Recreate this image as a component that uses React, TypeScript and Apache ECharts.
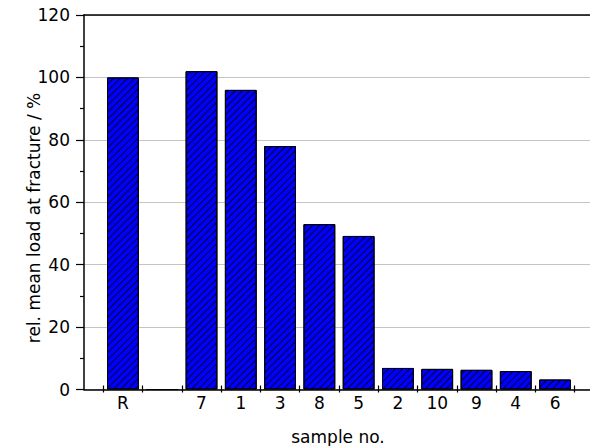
import React, { useEffect, useRef } from "react";
import * as echarts from "echarts";

const categories = ["R", "", "7", "1", "3", "8", "5", "2", "10", "9", "4", "6"];
const loadValues = [100, 0, 102, 96, 78, 53, 49.2, 6.9, 6.6, 6.3, 5.9, 3.2];
const yTicks = { min: 0, max: 120, interval: 20 };
const xTitle = "sample no.";
const yTitle = "rel. mean load at fracture / %";

const FONT = "DejaVu Sans, Arial, sans-serif";

export default function App() {
  const ref = useRef<HTMLDivElement>(null);
  useEffect(() => {
    if (!ref.current) return;
    const chart = echarts.init(ref.current, undefined, { renderer: "svg" });
    const top = 15;
    const bottom = 56.5;
    chart.setOption({
      animation: false,
      backgroundColor: "#fff",
      textStyle: { fontFamily: FONT },
      grid: [
        { left: 84, right: 0, top, bottom },
        { left: 103.3, width: 471.4, top, bottom },
      ],
      xAxis: [
        {
          gridIndex: 0, type: "value", min: 0, max: 1, position: "bottom",
          axisLine: { show: true, lineStyle: { color: "#000", width: 1.5 } },
          axisTick: { show: false }, axisLabel: { show: false }, splitLine: { show: false },
        },
        {
          gridIndex: 0, type: "value", min: 0, max: 1, position: "top",
          axisLine: { show: true, lineStyle: { color: "#000", width: 1.5 } },
          axisTick: { show: false }, axisLabel: { show: false }, splitLine: { show: false },
        },
        {
          gridIndex: 1, type: "category", data: categories, position: "bottom",
          axisLine: { show: false },
          axisTick: { show: true, inside: true, length: 4, lineStyle: { color: "#000", width: 1.2 } },
          axisLabel: { color: "#000", fontSize: 17, fontFamily: FONT, margin: 5 },
          splitLine: { show: false },
        },
        {
          gridIndex: 1, type: "category", data: categories, position: "bottom",
          axisLine: { show: false },
          axisTick: { show: true, inside: false, length: 3, lineStyle: { color: "#000", width: 1.2 } },
          axisLabel: { show: false },
          splitLine: { show: false },
        },
      ],
      yAxis: [
        {
          gridIndex: 0, type: "value", min: yTicks.min, max: yTicks.max, interval: yTicks.interval,
          axisLine: { show: true, lineStyle: { color: "#000", width: 1.5 } },
          axisTick: { show: true, inside: false, length: 8, lineStyle: { color: "#000", width: 1.2 } },
          minorTick: { show: true, splitNumber: 2, length: 4, lineStyle: { color: "#000", width: 1.2 } },
          axisLabel: { color: "#000", fontSize: 17, fontFamily: FONT, margin: 14 },
          splitLine: { show: true, lineStyle: { color: "#c4c4c4", width: 1 } },
        },
        {
          gridIndex: 1, type: "value", min: yTicks.min, max: yTicks.max, interval: yTicks.interval,
          show: false,
        },
      ],
      series: [
        {
          type: "bar",
          xAxisIndex: 2,
          yAxisIndex: 1,
          data: loadValues,
          barCategoryGap: "19%",
          itemStyle: {
            color: "#0000ff",
            borderColor: "#000",
            borderWidth: 1,
            decal: {
              symbol: "rect",
              symbolSize: 0.8,
              dashArrayX: [1, 0],
              dashArrayY: [1, 4],
              rotation: -Math.PI / 4,
              color: "#000",
            },
          },
        },
      ],
      graphic: [
        {
          type: "text", x: 338, y: 437,
          style: { text: xTitle, fill: "#000", font: `17px ${FONT}`, textAlign: "center", textVerticalAlign: "middle" },
        },
        {
          type: "text", x: 34, y: 218, rotation: Math.PI / 2,
          style: { text: yTitle, fill: "#000", font: `17px ${FONT}`, textAlign: "center", textVerticalAlign: "middle" },
        },
      ],
    });
    return () => chart.dispose();
  }, []);
  return <div ref={ref} style={{ width: 590, height: 446, position: "absolute", left: 0, top: 0 }} />;
}
